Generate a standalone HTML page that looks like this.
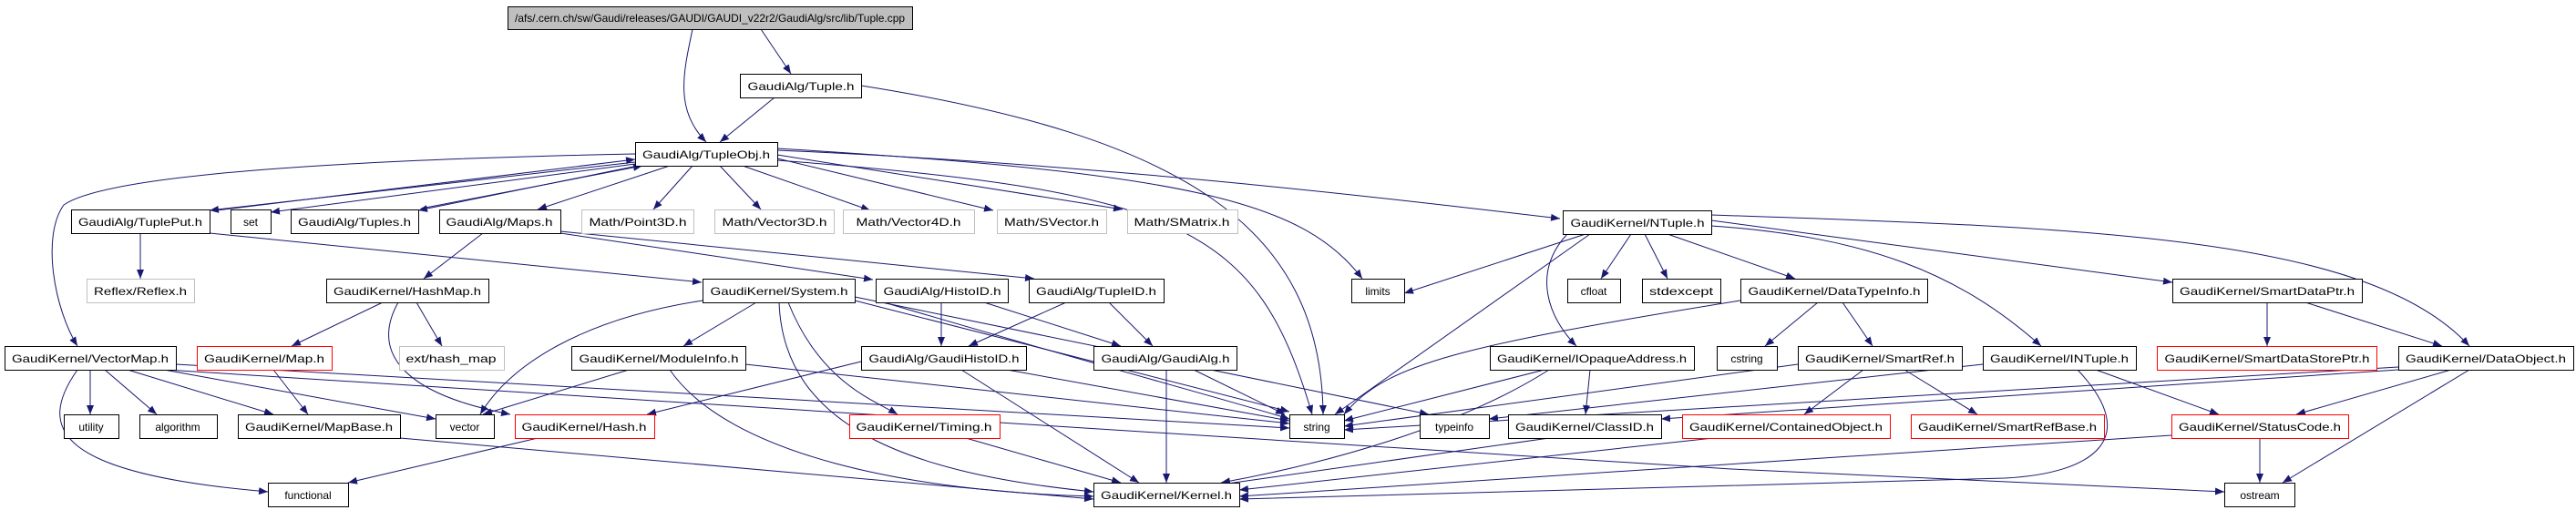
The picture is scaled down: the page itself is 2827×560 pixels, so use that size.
<!DOCTYPE html>
<html><head><meta charset="utf-8"><style>
html,body{margin:0;padding:0;background:#fff;width:2827px;height:560px;overflow:hidden}
svg{display:block}
text{font-family:"Liberation Sans",sans-serif;font-size:12px;fill:#000}
.e{fill:none;stroke:#191970;stroke-width:1}
</style></head><body>
<svg width="2827" height="560" viewBox="0 0 2827 560" xmlns="http://www.w3.org/2000/svg">
<defs><marker id="a" markerWidth="10" markerHeight="8" refX="10" refY="4" orient="auto" markerUnits="userSpaceOnUse"><path d="M0,0 L10,4 L0,8 z" fill="#191970"/></marker></defs>
<g class="e" marker-end="url(#a)">
<path d="M760,32 C750,80 740,120 775,156"/>
<path d="M835,32 L868,81"/>
<path d="M850,107 L790,156"/>
<path d="M945,94 C1300,150 1450,250 1452,455"/>
<path d="M697,169 C400,175 120,190 70,225 C45,260 60,340 85,380"/>
<path d="M697,178 L230,231"/>
<path d="M238,231 L697,175"/>
<path d="M697,180 L297,233"/>
<path d="M700,182 L459,231"/>
<path d="M462,229 L705,182"/>
<path d="M735,182 L590,230"/>
<path d="M760,182 L717,230"/>
<path d="M790,182 L835,230"/>
<path d="M815,182 L955,231"/>
<path d="M853,174 L1090,231"/>
<path d="M853,170 L1232,230"/>
<path d="M853,165 C1200,180 1500,215 1712,240"/>
<path d="M853,163 C1300,190 1430,220 1495,306"/>
<path d="M853,176 C1300,210 1380,250 1440,455"/>
<path d="M230,256 L770,310"/>
<path d="M615,256 L958,307"/>
<path d="M615,254 L1135,306"/>
<path d="M530,256 L465,306"/>
<path d="M154,256 L154,306"/>
<path d="M420,332 L320,380"/>
<path d="M457,332 L485,380"/>
<path d="M437,332 C410,380 430,430 560,455"/>
<path d="M771,330 C640,350 560,400 527,455"/>
<path d="M830,332 L750,380"/>
<path d="M855,332 C860,470 1000,520 1200,540"/>
<path d="M865,332 C900,420 960,440 985,455"/>
<path d="M938,330 L1415,452"/>
<path d="M938,326 L1568,455"/>
<path d="M1033,332 L1033,380"/>
<path d="M1080,332 L1230,380"/>
<path d="M970,332 C1200,400 1350,440 1415,460"/>
<path d="M1170,332 L1063,380"/>
<path d="M1217,332 L1265,380"/>
<path d="M945,397 L710,455"/>
<path d="M1105,406 L1415,462"/>
<path d="M1055,406 L1250,530"/>
<path d="M1280,406 L1280,530"/>
<path d="M1310,406 L1410,455"/>
<path d="M690,406 L530,455"/>
<path d="M735,406 C800,500 1000,540 1200,545"/>
<path d="M818,400 L1415,465"/>
<path d="M1060,481 L1230,530"/>
<path d="M99,406 L99,455"/>
<path d="M115,406 L172,455"/>
<path d="M140,406 L300,455"/>
<path d="M180,406 L478,460"/>
<path d="M85,406 C40,470 60,520 294,540"/>
<path d="M182,406 L1900,515 L2441,540"/>
<path d="M193,400 L1415,470"/>
<path d="M300,406 L338,455"/>
<path d="M439,481 L1200,548"/>
<path d="M590,481 L382,530"/>
<path d="M1740,257 L1541,322"/>
<path d="M1745,257 L1465,455"/>
<path d="M1720,257 C1680,300 1700,350 1730,380"/>
<path d="M1790,257 L1757,306"/>
<path d="M1805,257 L1830,306"/>
<path d="M1830,257 L1970,306"/>
<path d="M1878,248 C2050,260 2150,300 2240,380"/>
<path d="M1878,242 L2384,310"/>
<path d="M1878,236 C2300,250 2600,260 2710,380"/>
<path d="M1910,330 C1600,380 1520,400 1475,455"/>
<path d="M1695,406 L1475,462"/>
<path d="M1745,406 L1740,455"/>
<path d="M1700,406 C1600,470 1450,510 1340,530"/>
<path d="M1995,332 L1937,380"/>
<path d="M2022,332 L2055,380"/>
<path d="M1973,400 L1475,468"/>
<path d="M2045,406 L1980,455"/>
<path d="M2090,406 L2170,455"/>
<path d="M2176,400 L1634,460"/>
<path d="M2300,406 L2435,455"/>
<path d="M2280,406 C2350,480 2300,520 2200,525 L1360,548"/>
<path d="M2632,403 L1475,472"/>
<path d="M2632,406 L1823,460"/>
<path d="M2690,406 L2520,455"/>
<path d="M2710,406 L2505,530"/>
<path d="M2488,332 L2488,380"/>
<path d="M2530,332 L2680,380"/>
<path d="M2480,481 L2480,530"/>
<path d="M2383,478 L1360,545"/>
<path d="M1700,481 L1340,532"/>
<path d="M1880,481 L1360,538"/>
</g>
<g stroke-width="1">
<rect x="557.5" y="7.5" width="444" height="25" fill="#bfbfbf" stroke="#000"/><text x="779" y="24" text-anchor="middle" textLength="428" lengthAdjust="spacingAndGlyphs">/afs/.cern.ch/sw/Gaudi/releases/GAUDI/GAUDI_v22r2/GaudiAlg/src/lib/Tuple.cpp</text>
<rect x="812.5" y="81.5" width="133" height="26" fill="#fff" stroke="#000"/><text x="879" y="99" text-anchor="middle" textLength="117" lengthAdjust="spacingAndGlyphs">GaudiAlg/Tuple.h</text>
<rect x="697.5" y="156.5" width="156" height="26" fill="#fff" stroke="#000"/><text x="775" y="174" text-anchor="middle" textLength="140" lengthAdjust="spacingAndGlyphs">GaudiAlg/TupleObj.h</text>
</g>
<g fill="#fff" stroke="#000">
<rect x="78.5" y="230.5" width="152" height="26"/><rect x="253.5" y="230.5" width="44" height="26"/><rect x="319.5" y="230.5" width="140" height="26"/><rect x="482.5" y="230.5" width="133" height="26"/>
<rect x="1715.5" y="231.5" width="163" height="26"/>
<rect x="358.5" y="306.5" width="178" height="26"/><rect x="771.5" y="306.5" width="167" height="26"/><rect x="961.5" y="306.5" width="145" height="26"/><rect x="1129.5" y="306.5" width="148" height="26"/><rect x="1483.5" y="306.5" width="58" height="26"/><rect x="1720.5" y="306.5" width="58" height="26"/><rect x="1802.5" y="306.5" width="86" height="26"/><rect x="1910.5" y="306.5" width="205" height="26"/><rect x="2384.5" y="306.5" width="208" height="26"/>
<rect x="5.5" y="380.5" width="188" height="26"/><rect x="627.5" y="380.5" width="191" height="26"/><rect x="945.5" y="380.5" width="181" height="26"/><rect x="1200.5" y="380.5" width="157" height="26"/><rect x="1635.5" y="380.5" width="224" height="26"/><rect x="1884.5" y="380.5" width="66" height="26"/><rect x="1973.5" y="380.5" width="180" height="26"/><rect x="2176.5" y="380.5" width="168" height="26"/><rect x="2632.5" y="380.5" width="192" height="26"/>
<rect x="70.5" y="455.5" width="60" height="26"/><rect x="153.5" y="455.5" width="85" height="26"/><rect x="261.5" y="455.5" width="178" height="26"/><rect x="478.5" y="455.5" width="64" height="26"/><rect x="1415.5" y="455.5" width="60" height="26"/><rect x="1558.5" y="455.5" width="76" height="26"/><rect x="1655.5" y="455.5" width="168" height="26"/>
<rect x="294.5" y="530.5" width="88" height="26"/><rect x="1200.5" y="530.5" width="160" height="26"/><rect x="2441.5" y="530.5" width="77" height="26"/>
</g>
<g fill="#fff" stroke="#bfbfbf">
<rect x="638.5" y="230.5" width="123" height="26"/><rect x="784.5" y="230.5" width="131" height="26"/><rect x="925.5" y="230.5" width="144" height="26"/><rect x="1094.5" y="230.5" width="120" height="26"/><rect x="1237.5" y="230.5" width="121" height="26"/>
<rect x="95.5" y="306.5" width="118" height="26"/><rect x="438.5" y="380.5" width="115" height="26"/>
</g>
<g fill="#fff" stroke="#f00">
<rect x="216.5" y="380.5" width="148" height="26"/><rect x="2367.5" y="380.5" width="241" height="26"/>
<rect x="565.5" y="455.5" width="153" height="26"/><rect x="932.5" y="455.5" width="165" height="26"/><rect x="1846.5" y="455.5" width="228" height="26"/><rect x="2097.5" y="455.5" width="212" height="26"/><rect x="2383.5" y="455.5" width="194" height="26"/>
</g>
<g text-anchor="middle" lengthAdjust="spacingAndGlyphs">
<text x="154" y="248" textLength="136" lengthAdjust="spacingAndGlyphs">GaudiAlg/TuplePut.h</text>
<text x="275" y="248">set</text>
<text x="389" y="248" textLength="124" lengthAdjust="spacingAndGlyphs">GaudiAlg/Tuples.h</text>
<text x="548" y="248" textLength="117" lengthAdjust="spacingAndGlyphs">GaudiAlg/Maps.h</text>
<text x="700" y="248" textLength="107" lengthAdjust="spacingAndGlyphs" fill="#555">Math/Point3D.h</text>
<text x="850" y="248" textLength="115" lengthAdjust="spacingAndGlyphs" fill="#555">Math/Vector3D.h</text>
<text x="997" y="248" textLength="115" lengthAdjust="spacingAndGlyphs" fill="#555">Math/Vector4D.h</text>
<text x="1154" y="248" textLength="104" lengthAdjust="spacingAndGlyphs" fill="#555">Math/SVector.h</text>
<text x="1297" y="248" textLength="105" lengthAdjust="spacingAndGlyphs" fill="#555">Math/SMatrix.h</text>
<text x="1797" y="249" textLength="147" lengthAdjust="spacingAndGlyphs">GaudiKernel/NTuple.h</text>
<text x="154" y="324" textLength="102" lengthAdjust="spacingAndGlyphs" fill="#555">Reflex/Reflex.h</text>
<text x="447" y="324" textLength="162" lengthAdjust="spacingAndGlyphs">GaudiKernel/HashMap.h</text>
<text x="855" y="324" textLength="151" lengthAdjust="spacingAndGlyphs">GaudiKernel/System.h</text>
<text x="1034" y="324" textLength="129" lengthAdjust="spacingAndGlyphs">GaudiAlg/HistoID.h</text>
<text x="1203" y="324" textLength="132" lengthAdjust="spacingAndGlyphs">GaudiAlg/TupleID.h</text>
<text x="1512" y="324">limits</text>
<text x="1749" y="324">cfloat</text>
<text x="1845" y="324" textLength="70" lengthAdjust="spacingAndGlyphs">stdexcept</text>
<text x="2013" y="324" textLength="189" lengthAdjust="spacingAndGlyphs">GaudiKernel/DataTypeInfo.h</text>
<text x="2488" y="324" textLength="192" lengthAdjust="spacingAndGlyphs">GaudiKernel/SmartDataPtr.h</text>
<text x="99" y="398" textLength="172" lengthAdjust="spacingAndGlyphs">GaudiKernel/VectorMap.h</text>
<text x="290" y="398" textLength="132" lengthAdjust="spacingAndGlyphs">GaudiKernel/Map.h</text>
<text x="495" y="398" textLength="99" lengthAdjust="spacingAndGlyphs" fill="#555">ext/hash_map</text>
<text x="723" y="398" textLength="175" lengthAdjust="spacingAndGlyphs">GaudiKernel/ModuleInfo.h</text>
<text x="1036" y="398" textLength="165" lengthAdjust="spacingAndGlyphs">GaudiAlg/GaudiHistoID.h</text>
<text x="1279" y="398" textLength="141" lengthAdjust="spacingAndGlyphs">GaudiAlg/GaudiAlg.h</text>
<text x="1747" y="398" textLength="208" lengthAdjust="spacingAndGlyphs">GaudiKernel/IOpaqueAddress.h</text>
<text x="1917" y="398">cstring</text>
<text x="2063" y="398" textLength="164" lengthAdjust="spacingAndGlyphs">GaudiKernel/SmartRef.h</text>
<text x="2260" y="398" textLength="152" lengthAdjust="spacingAndGlyphs">GaudiKernel/INTuple.h</text>
<text x="2488" y="398" textLength="225" lengthAdjust="spacingAndGlyphs">GaudiKernel/SmartDataStorePtr.h</text>
<text x="2728" y="398" textLength="176" lengthAdjust="spacingAndGlyphs">GaudiKernel/DataObject.h</text>
<text x="100" y="473">utility</text>
<text x="195" y="473">algorithm</text>
<text x="350" y="473" textLength="162" lengthAdjust="spacingAndGlyphs">GaudiKernel/MapBase.h</text>
<text x="510" y="473">vector</text>
<text x="641" y="473" textLength="137" lengthAdjust="spacingAndGlyphs">GaudiKernel/Hash.h</text>
<text x="1014" y="473" textLength="149" lengthAdjust="spacingAndGlyphs">GaudiKernel/Timing.h</text>
<text x="1445" y="473">string</text>
<text x="1596" y="473">typeinfo</text>
<text x="1739" y="473" textLength="152" lengthAdjust="spacingAndGlyphs">GaudiKernel/ClassID.h</text>
<text x="1960" y="473" textLength="212" lengthAdjust="spacingAndGlyphs">GaudiKernel/ContainedObject.h</text>
<text x="2203" y="473" textLength="196" lengthAdjust="spacingAndGlyphs">GaudiKernel/SmartRefBase.h</text>
<text x="2480" y="473" textLength="178" lengthAdjust="spacingAndGlyphs">GaudiKernel/StatusCode.h</text>
<text x="338" y="548">functional</text>
<text x="1280" y="548" textLength="144" lengthAdjust="spacingAndGlyphs">GaudiKernel/Kernel.h</text>
<text x="2480" y="548">ostream</text>
</g>
</svg>
</body></html>
